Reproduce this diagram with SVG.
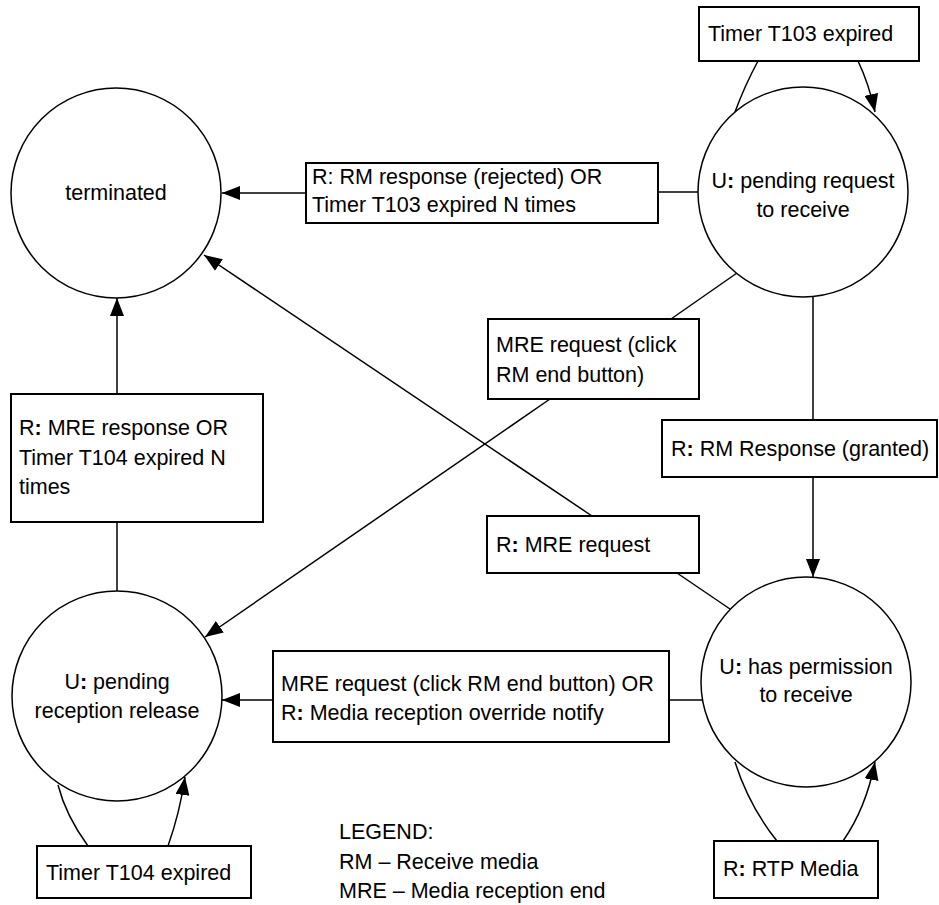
<svg xmlns="http://www.w3.org/2000/svg" width="939" height="905" viewBox="0 0 939 905">
<style>
.st{fill:#fff;stroke:#000;stroke-width:1.5}
.bx{fill:#fff;stroke:#000;stroke-width:2}
.ln{fill:none;stroke:#000;stroke-width:1.5}
text{font-family:"Liberation Sans",Arial,sans-serif;font-size:21.5px;fill:#000}
.c{text-anchor:middle}
.b{font-weight:bold}
</style>
<defs>
<marker id="ah" markerUnits="userSpaceOnUse" markerWidth="18" markerHeight="14" refX="18" refY="7" orient="auto">
<path d="M0,0 L18,7 L0,14 z" fill="#000"/>
</marker>
</defs>
<rect width="939" height="905" fill="#fff"/>
<g id="connectors">
<line class="ln" x1="307" y1="193" x2="222" y2="193" marker-end="url(#ah)"/>
<line class="ln" x1="658" y1="192" x2="698" y2="192"/>
<path class="ln" d="M758,61 Q745,85 735,112"/>
<path class="ln" d="M858,61 Q869,84 875,112" marker-end="url(#ah)"/>
<line class="ln" x1="737" y1="273" x2="671" y2="319"/>
<line class="ln" x1="550" y1="399" x2="205" y2="637" marker-end="url(#ah)"/>
<line class="ln" x1="813" y1="297" x2="813" y2="420"/>
<line class="ln" x1="813" y1="477" x2="813" y2="577" marker-end="url(#ah)"/>
<line class="ln" x1="730" y1="609" x2="677" y2="573"/>
<line class="ln" x1="592" y1="516" x2="204" y2="255" marker-end="url(#ah)"/>
<line class="ln" x1="117" y1="394" x2="117" y2="298" marker-end="url(#ah)"/>
<line class="ln" x1="117" y1="522" x2="117" y2="591"/>
<line class="ln" x1="273" y1="700" x2="222" y2="700" marker-end="url(#ah)"/>
<line class="ln" x1="669" y1="700" x2="703" y2="700"/>
<path class="ln" d="M88,846 Q66,816 58,785"/>
<path class="ln" d="M168,846 Q180,812 185,777" marker-end="url(#ah)"/>
<path class="ln" d="M777,841 Q749,806 735,762"/>
<path class="ln" d="M843,841 Q866,808 875,762" marker-end="url(#ah)"/>
</g>
<g id="terminated">
<circle class="st" cx="116" cy="193" r="105"/>
<text class="c" x="116" y="200">terminated</text>
</g>
<g id="pending-request">
<circle class="st" cx="803" cy="192" r="105"/>
<text class="c" x="803" y="188">U<tspan class="b">:</tspan> pending request</text>
<text class="c" x="803" y="217">to receive</text>
</g>
<g id="has-permission">
<circle class="st" cx="806" cy="682" r="105"/>
<text class="c" x="806" y="674">U<tspan class="b">:</tspan> has permission</text>
<text class="c" x="806" y="702">to receive</text>
</g>
<g id="pending-release">
<circle class="st" cx="117" cy="696" r="105"/>
<text class="c" x="117" y="689">U<tspan class="b">:</tspan> pending</text>
<text class="c" x="117" y="718">reception release</text>
</g>
<g id="lbl-t103">
<rect class="bx" x="699" y="7" width="220" height="54"/>
<text x="708" y="41">Timer T103 expired</text>
</g>
<g id="lbl-rejected">
<rect class="bx" x="306" y="163" width="352" height="60"/>
<text x="312" y="184">R: RM response (rejected) OR</text>
<text x="312" y="212">Timer T103 expired N times</text>
</g>
<g id="lbl-mre-click">
<rect class="bx" x="488" y="319" width="211" height="80"/>
<text x="496" y="352">MRE request (click</text>
<text x="496" y="382">RM end button)</text>
</g>
<g id="lbl-mre-response">
<rect class="bx" x="11" y="394" width="252" height="128"/>
<text x="19" y="435">R<tspan class="b">:</tspan> MRE response OR</text>
<text x="19" y="465">Timer T104 expired N</text>
<text x="19" y="494">times</text>
</g>
<g id="lbl-granted">
<rect class="bx" x="662" y="420" width="275" height="57"/>
<text x="671" y="456">R<tspan class="b">:</tspan> RM Response (granted)</text>
</g>
<g id="lbl-mre-request">
<rect class="bx" x="487" y="516" width="212" height="57"/>
<text x="496" y="552">R<tspan class="b">:</tspan> MRE request</text>
</g>
<g id="lbl-override">
<rect class="bx" x="273" y="651" width="396" height="91"/>
<text x="281" y="691">MRE request (click RM end button) OR</text>
<text x="281" y="720">R<tspan class="b">:</tspan> Media reception override notify</text>
</g>
<g id="lbl-t104">
<rect class="bx" x="37" y="846" width="214" height="52"/>
<text x="46" y="880">Timer T104 expired</text>
</g>
<g id="lbl-rtp">
<rect class="bx" x="714" y="841" width="164" height="57"/>
<text x="723" y="876">R<tspan class="b">:</tspan> RTP Media</text>
</g>
<g id="legend">
<text x="339" y="839">LEGEND:</text>
<text x="339" y="869">RM – Receive media</text>
<text x="339" y="898">MRE – Media reception end</text>
</g>
</svg>
